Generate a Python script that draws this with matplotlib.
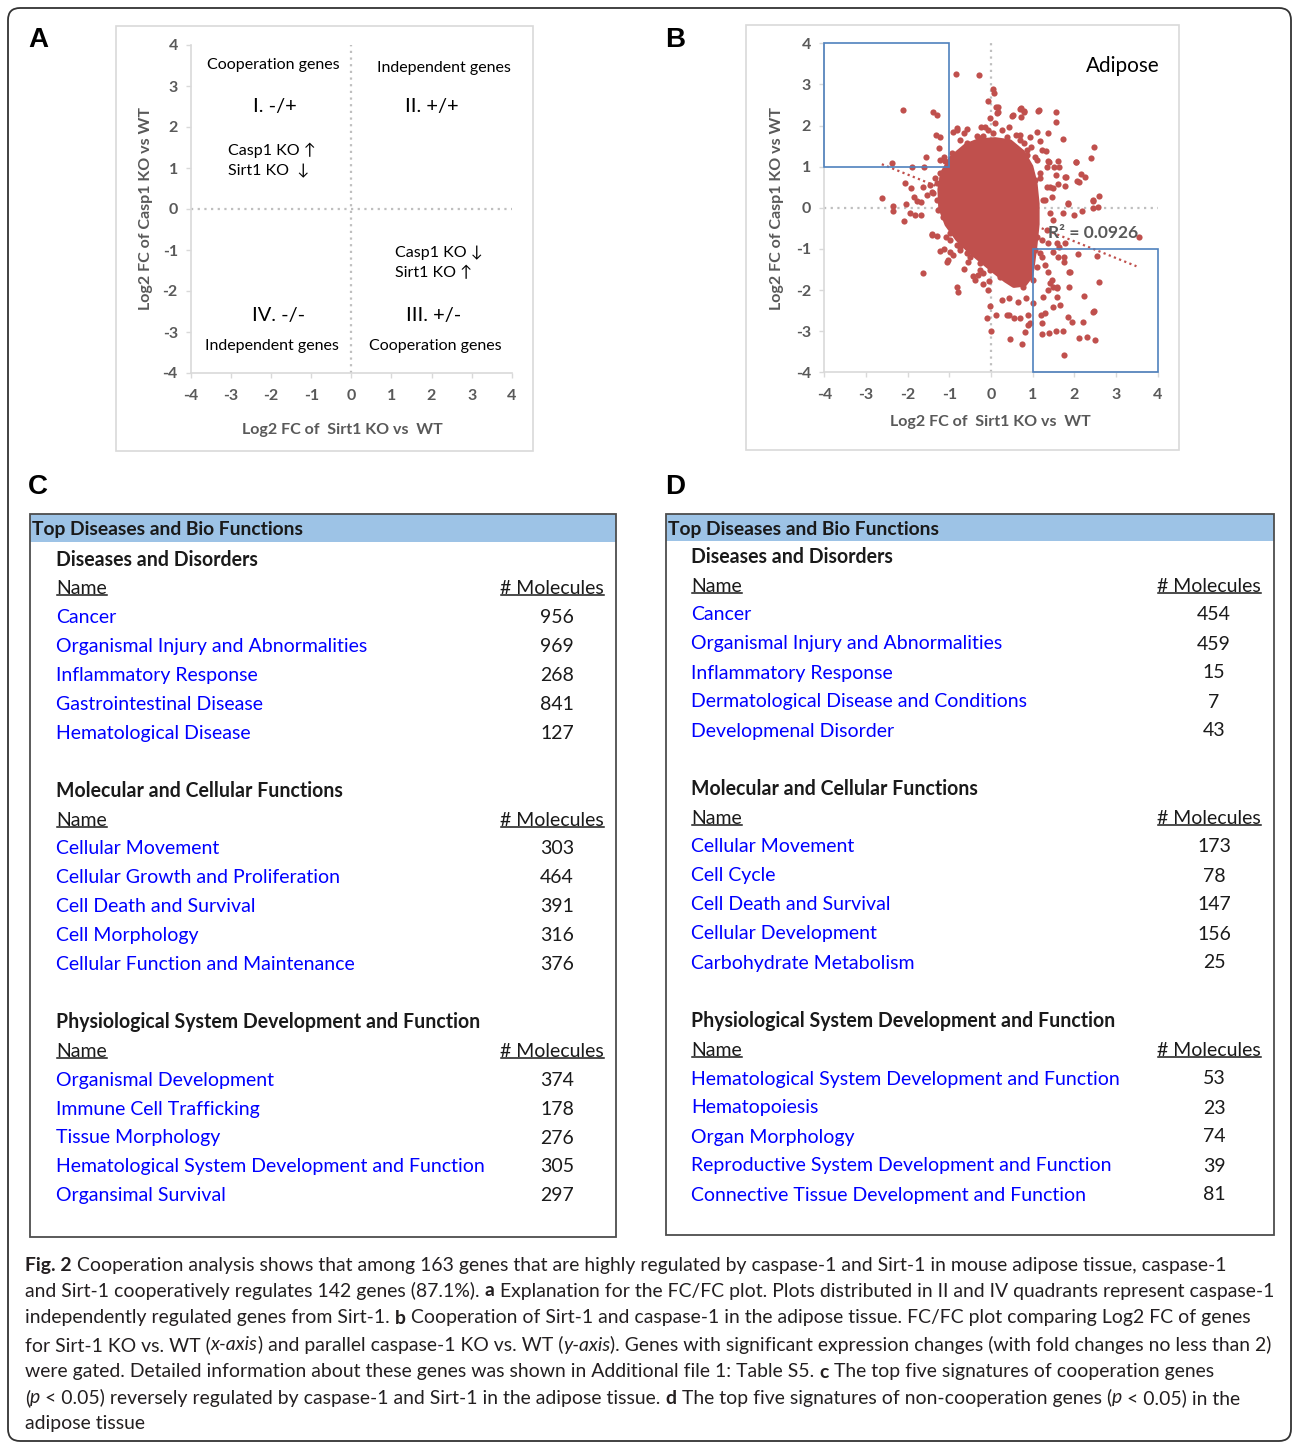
import numpy as np
import matplotlib
matplotlib.use("Agg")
import matplotlib.pyplot as plt
from matplotlib.patches import Rectangle, FancyBboxPatch

plt.rcParams['font.family'] = ['Lato', 'DejaVu Sans']

W, H = 1292, 1443

# ---- data ----
ticks = [-4, -3, -2, -1, 0, 1, 2, 3, 4]

# panel B: individual genes visible outside the dense cloud (Sirt1 FC, Casp1 FC)
gene_points = [
    (-0.84, 3.25), (-0.28, 3.22), (0.04, 2.88), (0.06, 2.80), (-0.06, 2.60), (0.12, 2.46),
    (0.16, 2.45), (-2.12, 2.37), (-1.38, 2.32), (-1.30, 2.26), (0.72, 2.42), (0.80, 2.36),
    (1.14, 2.37), (1.56, 2.32), (1.56, 2.08), (1.72, 1.67), (2.46, 1.49), (2.40, 1.20),
    (2.04, 1.11), (2.16, 0.82), (2.26, 0.76), (2.10, 0.63), (2.44, 0.18), (2.58, 0.29),
    (2.44, -0.01), (2.56, 0.01), (2.54, -1.18), (2.60, -1.80), (3.56, -0.72), (1.78, 0.54),
    (1.80, 0.74), (1.64, 1.00), (1.50, 1.00), (1.36, 1.15), (1.31, 1.39), (-0.02, 2.18),
    (0.10, 2.06), (0.17, 2.33), (0.14, 2.31),
    (-1.33, 1.77), (-1.22, 1.72), (-1.25, 1.45), (-1.57, 1.23), (-2.37, 1.10), (-1.89, 0.98),
    (-1.61, 0.99), (-1.22, 1.16), (-1.13, 1.24), (-1.10, 1.14), (-0.91, 1.85), (-0.82, 1.94),
    (-0.58, 1.92), (-0.65, 1.83), (-0.34, 1.75), (-0.24, 1.97), (-0.14, 1.97), (-0.07, 1.89),
    (-0.19, 1.75), (-0.74, 1.65), (-2.06, 0.60), (-1.92, 0.49), (-1.63, 0.51), (-2.62, 0.25),
    (-2.35, 0.04), (-2.04, 0.09), (-1.85, 0.27), (-1.78, 0.17), (-1.68, 0.15), (-1.46, 0.55),
    (-1.42, 0.39), (-1.34, 0.72), (-1.29, 0.60), (-1.54, 0.31), (-1.22, 0.85), (-1.18, 0.72),
    (-2.35, -0.08), (-2.09, -0.31), (-1.94, -0.13), (-1.82, -0.18), (-1.69, -0.18), (-1.42, -0.64),
    (-1.29, -0.69), (-1.22, -1.04), (-1.13, -1.00), (-1.06, -1.31), (-0.98, -1.07), (-0.91, -1.15),
    (-1.64, -1.58), (-0.82, -1.92), (-0.79, -2.04), (-0.65, -1.49), (-0.43, -1.66), (-0.38, -1.76),
    (-0.31, -1.64), (-0.20, -1.85), (-0.08, -2.00), (-0.05, -1.78), (-0.02, -2.39), (-0.10, -2.67),
    (0.12, -2.61), (-0.01, -2.99), (-0.19, -1.59), (-0.26, -1.51), (-0.55, -1.31), (-0.58, -1.10),
    (-1.08, -0.70), (-0.98, -0.78), (-0.82, -0.90), (-0.74, -1.03), (-1.02, -1.27), (-1.42, -0.66),
    (1.13, 2.36), (0.70, 2.40), (0.79, 2.34), (0.50, 2.23), (0.53, 2.26), (0.71, 2.22),
    (0.43, 1.97), (0.26, 1.89), (1.10, 1.84), (1.37, 1.82), (0.94, 1.71), (0.70, 1.77),
    (0.60, 1.77), (1.18, 1.62), (2.03, 1.12), (1.61, 1.15), (1.39, 1.12), (1.35, 0.99),
    (2.06, 0.64), (1.77, 0.76), (1.56, 0.80), (1.61, 0.58), (1.41, 0.50), (1.49, 0.47),
    (1.18, 0.72), (1.06, 0.68), (1.85, 0.11), (1.29, 0.19), (1.46, 0.27), (1.22, 1.41),
    (1.06, 1.24), (0.96, 1.47), (0.86, 1.28), (0.80, 1.57),
    (1.75, -3.58), (2.11, -3.17), (2.30, -3.14), (2.49, -3.22), (2.23, -2.15), (2.45, -2.53),
    (2.48, -2.51), (2.09, -1.12), (1.87, -1.56), (2.21, -2.78), (1.94, -2.78), (1.73, -3.00),
    (1.56, -3.00), (1.39, -3.04), (1.22, -3.07), (1.85, -2.65), (1.75, -1.32), (1.61, -1.20),
    (1.73, -0.13), (1.99, -0.18), (2.18, -0.08), (1.85, 0.09), (2.45, 0.17), (1.06, -1.03),
    (1.22, -1.19), (1.29, -1.39), (1.37, -1.55), (1.46, -1.76), (1.49, -1.92), (1.37, -2.00),
    (1.25, -2.16), (1.58, -2.16), (1.66, -2.36), (1.49, -2.41), (1.29, -2.57), (1.22, -2.81),
    (0.89, -2.61), (0.70, -2.69), (0.54, -2.69), (0.42, -2.61), (0.26, -2.24), (0.42, -2.20),
    (0.65, -2.28), (0.83, -2.19), (1.01, -2.32), (0.46, -3.18), (0.74, -3.30), (0.89, -2.85),
    (1.58, -1.96), (1.77, -0.86), (1.49, -1.07), (1.58, -0.86), (1.37, -0.86), (1.22, -0.78),
    (1.10, -0.70), (0.98, -0.42), (0.82, -3.01), (0.38, -2.61), (0.94, -2.81), (1.42, -1.84),
    (1.58, -1.92), (1.86, -1.92), (1.90, -1.55), (1.74, -1.19), (1.64, -0.96), (1.20, -2.61),
    # genes hugging the edge of the cloud
    (-0.82, 1.89), (-0.58, 1.57), (-0.26, 1.69), (0.05, 1.82), (0.38, 1.73), (0.70, 1.65),
    (0.86, 1.41), (0.53, 1.49), (1.10, 1.16), (1.18, 0.84), (1.34, 0.51), (1.25, 0.19),
    (1.41, -0.13), (1.49, -0.30), (1.34, -0.54), (1.18, -1.10), (1.10, -1.43), (1.01, -1.76),
    (0.77, -1.92), (0.53, -1.84), (0.22, -1.68), (-0.02, -1.51), (-0.26, -1.35), (-0.50, -1.19),
    (-0.74, -0.95), (-0.98, -0.62), (-1.15, -0.22), (-1.30, 0.19), (-1.22, 0.59), (-1.06, 1.00),
    (-0.94, 1.33), (-1.38, 0.35), (-1.26, -0.05),
]
sirt1_fc, casp1_fc = np.array(gene_points).T

# outline of the saturated core of the cloud
core_x = [-0.60, -0.30, 0.10, 0.45, 0.75, 0.95, 1.05, 1.10, 1.10, 1.05, 1.00, 0.95,
          0.80, 0.55, 0.35, 0.10, -0.20, -0.50, -0.80, -1.05, -1.20, -1.22, -1.15, -0.95]
core_y = [1.50, 1.62, 1.65, 1.60, 1.35, 1.00, 0.60, 0.10, -0.40, -0.90, -1.30, -1.65,
          -1.85, -1.88, -1.75, -1.55, -1.30, -1.05, -0.75, -0.40, 0.00, 0.45, 0.85, 1.20]

trend_x = [-2.62, 3.49]
trend_slope, trend_intercept = -0.406, -0.004
r_squared = 0.0926
gate_boxes = [(-4, 1, 3, 3), (1, -4, 3, 3)]   # (x, y, width, height)

section_titles = ["Diseases and Disorders", "Molecular and Cellular Functions",
                  "Physiological System Development and Function"]

c_names = [
    ["Cancer", "Organismal Injury and Abnormalities", "Inflammatory Response",
     "Gastrointestinal Disease", "Hematological Disease"],
    ["Cellular Movement", "Cellular Growth and Proliferation", "Cell Death and Survival",
     "Cell Morphology", "Cellular Function and Maintenance"],
    ["Organismal Development", "Immune Cell Trafficking", "Tissue Morphology",
     "Hematological System Development and Function", "Organsimal Survival"],
]
c_counts = [[956, 969, 268, 841, 127], [303, 464, 391, 316, 376], [374, 178, 276, 305, 297]]

d_names = [
    ["Cancer", "Organismal Injury and Abnormalities", "Inflammatory Response",
     "Dermatological Disease and Conditions", "Developmenal Disorder"],
    ["Cellular Movement", "Cell Cycle", "Cell Death and Survival",
     "Cellular Development", "Carbohydrate Metabolism"],
    ["Hematological System Development and Function", "Hematopoiesis", "Organ Morphology",
     "Reproductive System Development and Function", "Connective Tissue Development and Function"],
]
d_counts = [[454, 459, 15, 7, 43], [173, 78, 147, 156, 25], [53, 23, 74, 39, 81]]

caption = [
    [("Fig. 2", "b"), (" Cooperation analysis shows that among 163 genes that are highly regulated by caspase-1 and Sirt-1 in mouse adipose tissue, caspase-1", "n")],
    [("and Sirt-1 cooperatively regulates 142 genes (87.1%). ", "n"), ("a", "b"),
     (" Explanation for the FC/FC plot. Plots distributed in II and IV quadrants represent caspase-1", "n")],
    [("independently regulated genes from Sirt-1. ", "n"), ("b", "b"),
     (" Cooperation of Sirt-1 and caspase-1 in the adipose tissue. FC/FC plot comparing Log2 FC of genes", "n")],
    [("for Sirt-1 KO vs. WT (", "n"), ("x-axis", "i"), (") and parallel caspase-1 KO vs. WT (", "n"), ("y-axis", "i"),
     ("). Genes with significant expression changes (with fold changes no less than 2)", "n")],
    [("were gated. Detailed information about these genes was shown in Additional file 1: Table S5. ", "n"), ("c", "b"),
     (" The top five signatures of cooperation genes", "n")],
    [("(", "n"), ("p", "i"), (" < 0.05) reversely regulated by caspase-1 and Sirt-1 in the adipose tissue. ", "n"), ("d", "b"),
     (" The top five signatures of non-cooperation genes (", "n"), ("p", "i"), (" < 0.05) in the", "n")],
    [("adipose tissue", "n")],
]
caption_line_ends = [1248, 1270, 1270, 1271, 1272, 1233]

# ---- figure in pixel units ----
fig = plt.figure(figsize=(W / 100, H / 100), dpi=100)
bg = fig.add_axes([0, 0, 1, 1])
bg.set_xlim(0, W)
bg.set_ylim(H, 0)
bg.axis('off')
renderer = fig.canvas.get_renderer()


def text_width(s, size, **kw):
    t = bg.text(0, 0, s, fontsize=size, **kw)
    w = t.get_window_extent(renderer).width
    t.remove()
    return w


def fit_size(s, target, **kw):
    return 14 * target / text_width(s, 14, **kw)


def chart_axes(x0, y0, x1, y1):
    ax = fig.add_axes([x0 / W, 1 - y1 / H, (x1 - x0) / W, (y1 - y0) / H])
    ax.set_xlim(-4, 4)
    ax.set_ylim(-4, 4)
    ax.set_xticks(ticks)
    ax.set_yticks(ticks)
    ax.set_xticklabels([str(t) for t in ticks], fontweight='bold')
    ax.set_yticklabels([str(t) for t in ticks], fontweight='bold')
    ax.patch.set_visible(False)
    for s in ('top', 'right'):
        ax.spines[s].set_visible(False)
    for s in ('left', 'bottom'):
        ax.spines[s].set_color('#D9D9D9')
        ax.spines[s].set_linewidth(1.2)
    ax.tick_params(direction='out', length=3.5, width=1, color='#D9D9D9',
                   labelcolor='#595959', labelsize=11.5)
    ax.tick_params(axis='x', pad=8)
    ax.tick_params(axis='y', pad=6)
    ax.axhline(0, color='#BFBFBF', lw=1.6, ls=(0, (1, 2)), zorder=0.5)
    ax.axvline(0, color='#BFBFBF', lw=1.6, ls=(0, (1, 2)), zorder=0.5)
    return ax


# frame and panel borders
bg.add_patch(FancyBboxPatch((8, 8), 1283, 1433, boxstyle='round,pad=0,rounding_size=12',
                            fc='none', ec='#333333', lw=1.3))
bg.add_patch(Rectangle((116, 26), 417, 425, fc='none', ec='#D9D9D9', lw=1.2))
bg.add_patch(Rectangle((746, 25), 433, 425, fc='none', ec='#D9D9D9', lw=1.2))

for letter, (lx, ly) in zip("ABCD", [(38, 40), (675, 40), (38, 487), (675, 487)]):
    bg.text(lx, ly, letter, fontsize=20, fontweight='bold', family='Liberation Sans',
            ha='center', va='center')

axis_fs = fit_size("Log2 FC of  Sirt1 KO vs  WT", 201, fontweight='bold')
xlab = "Log2 FC of  Sirt1 KO vs  WT"
ylab = "Log2 FC of Casp1 KO vs WT"

# ---- panel A ----
ax_a = chart_axes(191, 45, 511.7, 373)
bg.text(342, 430, xlab, fontsize=axis_fs, fontweight='bold', color='#595959', ha='center', va='center')
bg.text(146, 209, ylab, fontsize=axis_fs, fontweight='bold', color='#595959', ha='center', va='center',
        rotation=90)

small_fs = fit_size("Cooperation genes", 133)
big_fs = fit_size("III. +/-", 55)
for s, x, y in [("Cooperation genes", -1.95, 3.5), ("Independent genes", 2.3, 3.45),
                ("Independent genes", -1.97, -3.33), ("Cooperation genes", 2.09, -3.33)]:
    ax_a.text(x, y, s, fontsize=small_fs, ha='center', va='center')
for s, x, y in [("I. -/+", -1.9, 2.5), ("II. +/+", 2.0, 2.5), ("IV. -/-", -1.82, -2.6),
                ("III. +/-", 2.04, -2.6)]:
    ax_a.text(x, y, s, fontsize=big_fs, ha='center', va='center')
for s, x, y in [("Casp1 KO \u2191", -3.07, 1.42), ("Sirt1 KO  \u2193", -3.07, 0.93),
                ("Casp1 KO \u2193", 1.09, -1.07), ("Sirt1 KO \u2191", 1.09, -1.56)]:
    ax_a.text(x, y, s, fontsize=small_fs, ha='left', va='center')

# ---- panel B ----
ax_b = chart_axes(824.3, 43.3, 1157.7, 372.3)
bg.text(990, 422, xlab, fontsize=axis_fs, fontweight='bold', color='#595959', ha='center', va='center')
bg.text(777, 208, ylab, fontsize=axis_fs, fontweight='bold', color='#595959', ha='center', va='center',
        rotation=90)
red = '#C0504D'
ax_b.fill(core_x, core_y, color=red, lw=4, ec=red, joinstyle='round', zorder=3)
ax_b.scatter(sirt1_fc, casp1_fc, s=20, color=red, lw=0, zorder=3)
tx = np.array(trend_x)
ax_b.plot(tx, trend_slope * tx + trend_intercept, color=red, lw=1.6, ls=(0, (1, 1.5)), zorder=4)
for gx, gy, gw, gh in gate_boxes:
    ax_b.add_patch(Rectangle((gx, gy), gw, gh, fill=False, ec='#4F81BD', lw=1.2, zorder=5, clip_on=False))
ax_b.text(1.37, -0.62, "R\u00b2 = %.4f" % r_squared, fontsize=12.5, fontweight='bold', color='#595959',
          ha='left', va='center', zorder=6)
ax_b.text(3.17, 3.45, "Adipose", fontsize=fit_size("Adipose", 74), ha='center', va='center')

# ---- tables C and D ----
item_fs = fit_size("Organismal Injury and Abnormalities", 313)
title_fs = fit_size("Physiological System Development and Function", 426, fontweight='bold')
head_fs = fit_size("Top Diseases and Bio Functions", 274, fontweight='bold')
underlined = []


def draw_table(x0, x1, y0, y1, head_y1, head_x, title_y0, row_h, name_x, num_cx, mol_rx, names, counts):
    bg.add_patch(Rectangle((x0, y0), x1 - x0, head_y1 - y0, fc='#9DC3E6', ec='none'))
    bg.add_patch(Rectangle((x0, y0), x1 - x0, y1 - y0, fc='none', ec='#4D4D4D', lw=1.3))
    bg.text(head_x, (y0 + head_y1) / 2 + 2, "Top Diseases and Bio Functions", fontsize=head_fs,
            fontweight='bold', color='#1A1A1A', va='center')
    for k, title in enumerate(section_titles):
        yt = title_y0 + k * 8 * row_h + 1
        bg.text(name_x, yt, title, fontsize=title_fs, fontweight='bold', color='#1A1A1A', va='center')
        underlined.append(bg.text(name_x, yt + row_h, "Name", fontsize=item_fs, color='#1A1A1A',
                                  va='center', ha='left'))
        underlined.append(bg.text(mol_rx, yt + row_h, "# Molecules", fontsize=item_fs, color='#1A1A1A',
                                  va='center', ha='right'))
        for i, (n, c) in enumerate(zip(names[k], counts[k])):
            y = yt + (i + 2) * row_h
            bg.text(name_x, y, n, fontsize=item_fs, color='#0000FF', va='center')
            bg.text(num_cx, y, str(c), fontsize=item_fs, color='#1A1A1A', va='center', ha='center')


draw_table(30, 616, 514, 1237, 542, 32, 559, 28.9, 56, 557, 604, c_names, c_counts)
draw_table(666, 1274, 514, 1235, 541, 668, 556, 29.0, 691, 1214, 1261, d_names, d_counts)

for t in underlined:
    bb = t.get_window_extent(renderer)
    yl = H - bb.y0 - 2
    bg.plot([bb.x0 + 1, bb.x1], [yl, yl], color='#1A1A1A', lw=1.1)

# ---- caption ----
ratios = [(end - 25) / text_width("".join(s for s, _ in segs), 14)
          for segs, end in zip(caption, caption_line_ends)]
cap_fs = 14 * float(np.mean(ratios)) * 0.992
space_w = text_width("n n", cap_fs) - text_width("nn", cap_fs)
styles = {"n": dict(), "b": dict(fontweight='bold'), "i": dict(fontstyle='italic')}
cap_y = [1265, 1291, 1318, 1345, 1372, 1398, 1424]
for segs, y in zip(caption, cap_y):
    x = 25
    for txt, st in segs:
        lead = len(txt) - len(txt.lstrip(' '))
        trail = len(txt) - len(txt.rstrip(' '))
        x += lead * space_w
        t = bg.text(x, y, txt.strip(' '), fontsize=cap_fs, color='#231F20', va='center', **styles[st])
        x += t.get_window_extent(renderer).width + trail * space_w

fig.savefig("out.png", dpi=100)
